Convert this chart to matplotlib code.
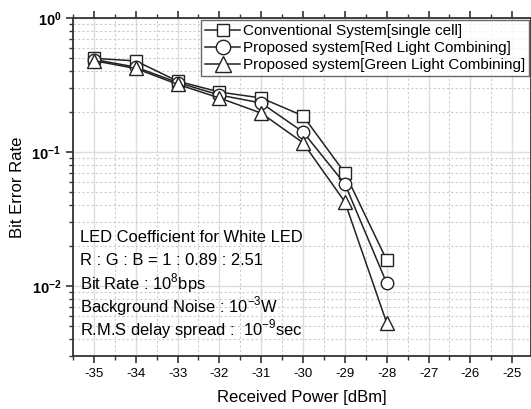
import numpy as np
import matplotlib
matplotlib.use('Agg')
import matplotlib.pyplot as plt
from matplotlib.ticker import LogLocator, MultipleLocator, NullFormatter

matplotlib.rcParams['font.family'] = ['Liberation Sans', 'DejaVu Sans']
matplotlib.rcParams['mathtext.fontset'] = 'custom'
matplotlib.rcParams['mathtext.rm'] = 'Liberation Sans'
matplotlib.rcParams['mathtext.bf'] = 'Liberation Sans:bold'

# received power (dBm)
power = [-35, -34, -33, -32, -31, -30, -29, -28]
ber_conv = [0.50, 0.478, 0.338, 0.28, 0.253, 0.186, 0.0697, 0.0156]
ber_red = [0.49, 0.43, 0.33, 0.266, 0.232, 0.141, 0.0577, 0.0105]
ber_green = [0.48, 0.42, 0.32, 0.253, 0.195, 0.117, 0.0424, 0.0053]
labels = ['Conventional System[single cell]',
          'Proposed system[Red Light Combining]',
          'Proposed system[Green Light Combining]']
xticks = list(range(-35, -24))
notes = ['LED Coefficient for White LED',
         'R : G : B = 1 : 0.89 : 2.51',
         r'Bit Rate : 10$^{8}$bps',
         r'Background Noise : 10$^{-3}$W',
         r'R.M.S delay spread :  10$^{-9}$sec']

fig = plt.figure(figsize=(5.31, 4.09), dpi=100)
ax = fig.add_axes([0.1375, 0.1296, 0.8625, 0.8264])

ax.plot(power, ber_conv, 's-', color='#222222', mfc='white', mec='#222222',
        ms=8, lw=1.1, label=labels[0], zorder=3)
ax.plot(power, ber_red, 'o-', color='#222222', mfc='white', mec='#222222',
        ms=9, lw=1.1, label=labels[1], zorder=3)
ax.plot(power, ber_green, '^-', color='#222222', mfc='white', mec='#222222',
        ms=10, lw=1.1, label=labels[2], zorder=3)

ax.set_yscale('log')
ax.set_ylim(0.003, 1)
ax.set_xlim(-35.5, -24.55)
ax.set_xticks(xticks)
ax.set_xticklabels([str(t) for t in xticks], fontsize=9.5)
ax.xaxis.set_minor_locator(MultipleLocator(0.5))
ax.yaxis.set_major_locator(LogLocator(base=10, numticks=10))
ax.yaxis.set_minor_locator(LogLocator(base=10, subs=np.arange(2, 10), numticks=10))
ax.yaxis.set_minor_formatter(NullFormatter())
for lab in ax.get_yticklabels():
    lab.set_fontweight('bold')
    lab.set_fontsize(10.5)

ax.grid(True, which='major', color='#dddddd', lw=1.0, ls='-')
ax.grid(True, which='minor', color='#cccccc', lw=0.8, ls=(0, (2, 2)))
ax.set_axisbelow(True)

ax.tick_params(axis='x', which='major', direction='out', length=5, width=1.2, top=True)
ax.tick_params(axis='x', which='minor', direction='out', length=3, width=1.0, top=True)
ax.tick_params(axis='y', which='major', direction='out', length=5, width=1.2, right=True)
ax.tick_params(axis='y', which='minor', direction='out', length=3, width=1.0, right=True)
ax.tick_params(which='both', colors='#333333', labelcolor='black')
for s in ax.spines.values():
    s.set_linewidth(1.3)
    s.set_color('#333333')

ax.set_xlabel('Received Power [dBm]', fontsize=12, labelpad=7)
ax.set_ylabel('Bit Error Rate', fontsize=12, labelpad=5)

leg = ax.legend(loc='upper right', bbox_to_anchor=(0.995, 0.993), fontsize=11,
                frameon=True, fancybox=False, handlelength=2.3, markerscale=1.15,
                handletextpad=0.15, borderpad=0.25, labelspacing=0.2,
                borderaxespad=0.0)
leg.get_frame().set_edgecolor('#444444')
leg.get_frame().set_linewidth(1.0)

y0 = 238
for i, t in enumerate(notes):
    fig.text(80 / 531, 1 - (y0 + i * 22.8) / 409, t, fontsize=11.9,
             va='center', ha='left')

fig.savefig('out.png', dpi=100)
